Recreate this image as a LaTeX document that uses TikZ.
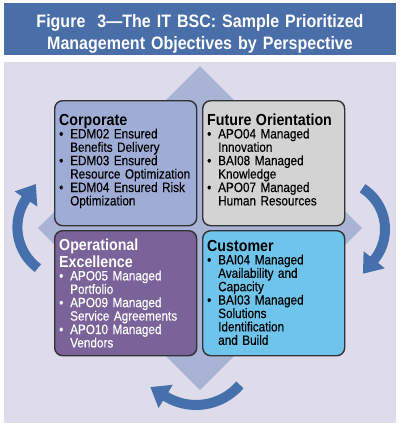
\documentclass[tikz,border=0pt]{standalone}
\usepackage{fontspec}
\setmainfont{Liberation Sans}
\newfontfamily\condf[FakeStretch=0.89]{Liberation Sans}
\newfontfamily\bodyf[FakeStretch=0.87,FakeBold=0.3]{Liberation Sans}
\usetikzlibrary{arrows.meta}
\definecolor{titleblue}{HTML}{4A6EA8}
\definecolor{arrowblue}{HTML}{4670AB}
\definecolor{bglav}{HTML}{DEDBEA}
\definecolor{diam}{HTML}{A8B3D6}
\definecolor{corpfill}{HTML}{9FADD6}
\definecolor{futfill}{HTML}{D3D3D3}
\definecolor{opsfill}{HTML}{7A6399}
\definecolor{custfill}{HTML}{6EC4EA}
\definecolor{boxborder}{HTML}{333333}
\newcommand\hdf{\condf\bfseries\fontsize{16}{17}\selectfont}
\newcommand\bdf{\bodyf\fontsize{13.5}{13.4}\selectfont}
\newcommand\bl{\leavevmode\llap{\makebox[11pt][l]{\textbullet}}}
\tikzset{
  pbox/.style={draw=boxborder, line width=1.4pt, rounded corners=8pt,
    minimum width=142pt, minimum height=125pt, anchor=north west, inner sep=0pt},
  btxt/.style={anchor=base west, inner sep=0pt, text width=136pt, align=left, font=\bdf},
  cyc/.style={draw=arrowblue, line width=10pt, -{Triangle[length=18pt,width=26pt]}},
}
\begin{document}
\begin{tikzpicture}[x=1pt,y=-1pt]
\useasboundingbox (0,0) rectangle (400,429);
\fill[white] (0,0) rectangle (400,429);
% title bar
\node[fill=titleblue, minimum width=392pt, minimum height=52pt, anchor=north west, inner sep=0pt] (bar) at (4,3) {};
\node[anchor=base, text width=392pt, align=center, inner sep=0pt, text=white,
      font=\condf\bfseries\fontsize{18}{22}\selectfont] (title) at (200,27)
  {Figure\ \ 3—The IT BSC: Sample Prioritized\\Management Objectives by Perspective};
% panel
\node[fill=bglav, minimum width=392pt, minimum height=361pt, anchor=north west, inner sep=0pt] (panel) at (4,62) {};
% diamond
\fill[diam] (200,66) -- (362,228) -- (200,390) -- (38,228) -- cycle;
% cycle arrows
\draw[cyc] (37.9,268.1) arc[start angle=126.7, end angle=213.6, radius=51] -- ++(10,-15);
\draw[cyc] (362.5,188.3) arc[start angle=-57.6, end angle=39, radius=48.5] -- ++(-11.3,14);
\draw[cyc] (239.9,384.9) arc[start angle=40.8, end angle=121.6, radius=58] -- ++(-15.3,-9.4);
% boxes
\node[pbox, fill=corpfill] (corp) at (54,100) {};
\node[pbox, fill=futfill] (fut) at (202,100) {};
\node[pbox, fill=opsfill] (ops) at (54,230) {};
\node[pbox, fill=custfill] (cust) at (202,230) {};
% texts
\node[btxt] (corpT) at (59,125) {{\hdf Corporate\par}\leftskip=11pt
  \bl EDM02 Ensured\par Benefits Delivery\par
  \bl EDM03 Ensured\par Resource Optimization\par
  \bl EDM04 Ensured Risk\par Optimization\par};
\node[btxt] (futT) at (207,125) {{\hdf Future Orientation\par}\leftskip=11pt
  \bl APO04 Managed\par Innovation\par
  \bl BAI08 Managed\par Knowledge\par
  \bl APO07 Managed\par Human Resources\par};
\node[btxt, text=white] (opsT) at (59,250) {{\hdf Operational\par Excellence\par}\leftskip=11pt
  \bl APO05 Managed\par Portfolio\par
  \bl APO09 Managed\par Service Agreements\par
  \bl APO10 Managed\par Vendors\par};
\node[btxt] (custT) at (207,251) {{\hdf Customer\par}\leftskip=11pt
  \bl BAI04 Managed\par Availability and\par Capacity\par
  \bl BAI03 Managed\par Solutions\par Identification\par and Build\par};
\end{tikzpicture}
\end{document}
